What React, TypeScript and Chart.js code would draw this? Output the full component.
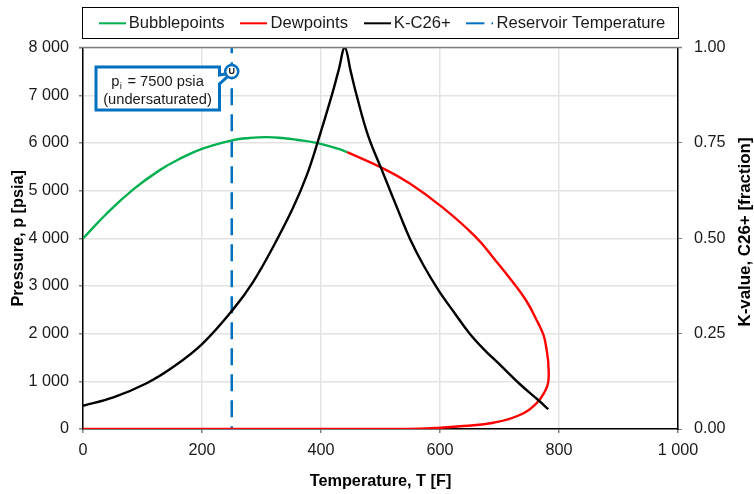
import React, { useEffect, useRef } from "react";
import { Chart, registerables } from "chart.js";

Chart.register(...registerables);

const FONT = '"Liberation Sans", Arial, sans-serif';
const BLUE = "#0070C0";

const bubbleT = [0, 40, 85, 129, 163, 201, 252, 280, 309, 335, 359, 394, 432, 444];
const bubbleP = [3995, 4520, 5030, 5430, 5670, 5880, 6060, 6105, 6122, 6103, 6067, 5996, 5864, 5807];

const dewT = [444, 502, 550, 602, 659, 695, 720, 745, 765, 774, 778, 781, 782, 782, 776, 762, 734, 690, 639, 600, 566, 500, 400, 200, 0];
const dewP = [5807, 5480, 5145, 4670, 4040, 3510, 3120, 2690, 2220, 1969, 1750, 1500, 1382, 990, 782, 538, 293, 132, 63, 27, 6, 1, 0, 0, 0];

const kT = [0, 51, 107, 152, 201, 252, 286, 319, 353, 376, 394, 418, 430, 440, 450, 460, 479, 502, 533, 550, 572, 597, 625, 650, 675, 701, 734, 765, 782];
const kV = [0.061, 0.083, 0.12, 0.163, 0.224, 0.313, 0.386, 0.476, 0.58, 0.665, 0.75, 0.874, 0.943, 1.0, 0.937, 0.874, 0.77, 0.68, 0.56, 0.497, 0.43, 0.365, 0.303, 0.25, 0.207, 0.168, 0.118, 0.076, 0.052];

const resT = [250, 250];
const resP = [8000, 0];

const initialT = [250];
const initialP = [7500];

const xTicks = [0, 200, 400, 600, 800, 1000];
const pts = (xs: number[], ys: number[]) => xs.map((x, i) => ({ x, y: ys[i] }));
const sep = (v: number) => String(v).replace(/\B(?=(\d{3})+$)/g, " ");

function legendSwatch(color: string, dashed: boolean) {
  const c = document.createElement("canvas");
  c.width = 27;
  c.height = 4;
  const g = c.getContext("2d")!;
  g.fillStyle = color;
  if (dashed) {
    g.fillRect(0, 1, 18, 2);
    g.fillRect(25, 1, 2, 2);
  } else {
    g.fillRect(0, 1, 27, 2);
  }
  return c;
}

const decorations = {
  id: "decorations",
  beforeDatasetsDraw(chart: any) {
    const g = chart.ctx;
    const x = chart.scales.x.getPixelForValue(initialT[0]);
    const y1 = chart.scales.y.getPixelForValue(initialP[0]) + 1.5;
    g.save();
    g.strokeStyle = BLUE;
    g.fillStyle = "#fff";
    g.lineWidth = 3;
    g.beginPath();
    g.moveTo(96, 67);
    g.lineTo(219.5, 67);
    g.lineTo(219.5, 75);
    g.lineTo(x, y1);
    g.lineTo(219.5, 84);
    g.lineTo(219.5, 110);
    g.lineTo(96, 110);
    g.closePath();
    g.fill();
    g.stroke();
    g.fillStyle = "#1a1a1a";
    g.textBaseline = "alphabetic";
    g.textAlign = "left";
    g.font = `14.7px ${FONT}`;
    const rest = " = 7500 psia";
    const pw = g.measureText("p").width;
    const w = pw + 4 + g.measureText(rest).width;
    const sx = 157.5 - w / 2;
    g.fillText("p", sx, 86);
    g.fillText(rest, sx + pw + 4, 86);
    g.font = `9.5px ${FONT}`;
    g.fillText("i", sx + pw + 0.5, 89);
    g.font = `14.7px ${FONT}`;
    g.textAlign = "center";
    g.fillText("(undersaturated)", 157.5, 104);
    g.restore();
  },
  afterDatasetsDraw(chart: any) {
    const g = chart.ctx;
    const x = chart.scales.x.getPixelForValue(initialT[0]);
    const y = chart.scales.y.getPixelForValue(initialP[0]);
    g.save();
    g.fillStyle = "#1a1a1a";
    g.font = `bold 9px ${FONT}`;
    g.textAlign = "center";
    g.textBaseline = "middle";
    g.fillText("U", x, y + 0.5);
    g.restore();
  },
  afterDraw(chart: any) {
    const g = chart.ctx;
    const a = chart.chartArea;
    g.save();
    g.strokeStyle = "#000";
    g.lineWidth = 1;
    g.strokeRect(82.5, 7.5, 596, 31);
    g.strokeStyle = "#808080";
    g.lineWidth = 1.5;
    g.beginPath();
    g.moveTo(a.left - 4, a.top);
    g.lineTo(a.right + 4, a.top);
    g.stroke();
    g.fillStyle = "#000";
    g.font = `bold 16.9px ${FONT}`;
    g.textAlign = "center";
    g.textBaseline = "middle";
    g.translate(745, 232);
    g.rotate(-Math.PI / 2);
    g.fillText("K-value, C26+ [fraction]", 0, 0);
    g.restore();
  },
};

export default function App() {
  const ref = useRef<HTMLCanvasElement>(null);
  useEffect(() => {
    const tickFont = { family: FONT, size: 16.2 };
    const titleFont = { family: FONT, size: 16.3, weight: "bold" as const };
    const chart = new Chart(ref.current!, {
      type: "scatter",
      plugins: [decorations],
      data: {
        datasets: [
          { label: "Initial pressure", data: pts(initialT, initialP), showLine: false, pointRadius: 6.5, pointBorderWidth: 2.5, pointBackgroundColor: "#fff", pointBorderColor: BLUE, yAxisID: "y", order: 0 },
          { label: "Bubblepoints", data: pts(bubbleT, bubbleP), showLine: true, borderColor: "#00B050", borderWidth: 2.4, pointRadius: 0, tension: 0.45, yAxisID: "y", order: 3 },
          { label: "Dewpoints", data: pts(dewT, dewP), showLine: true, borderColor: "#FF0000", borderWidth: 2.4, pointRadius: 0, tension: 0.45, yAxisID: "y", order: 2 },
          { label: "K-C26+", data: pts(kT, kV), showLine: true, borderColor: "#000000", borderWidth: 2.4, pointRadius: 0, tension: 0.4, yAxisID: "y2", order: 1 },
          { label: "Reservoir Temperature", data: pts(resT, resP), showLine: true, borderColor: BLUE, borderWidth: 2.5, borderDash: [17, 9], borderDashOffset: 11.3, pointRadius: 0, yAxisID: "y", order: 4 },
        ],
      },
      options: {
        animation: false,
        responsive: false,
        layout: { padding: { top: -6, left: 0, right: -15, bottom: 0 } },
        plugins: {
          tooltip: { enabled: false },
          title: { display: true, text: " ", weight: 500, font: { size: 1 }, padding: { top: 2.4, bottom: 2.4 } },
          legend: {
            position: "top",
            labels: {
              usePointStyle: true,
              pointStyleWidth: 16.6,
              padding: 21,
              color: "#1a1a1a",
              font: { family: FONT, size: 16.6 },
              filter: (item: any) => item.datasetIndex !== 0,
              generateLabels: (c: any) =>
                c.data.datasets.map((d: any, i: number) => ({
                  text: d.label,
                  datasetIndex: i,
                  fontColor: "#1a1a1a",
                  fillStyle: d.borderColor,
                  strokeStyle: d.borderColor,
                  lineWidth: 0,
                  pointStyle: legendSwatch(d.borderColor ?? BLUE, !!d.borderDash),
                })),
            },
          },
        },
        scales: {
          x: {
            type: "linear",
            min: 0,
            max: 1000,
            afterBuildTicks: (s: any) => { s.ticks = xTicks.map((value) => ({ value })); },
            afterFit: (s: any) => { s.height = 65; },
            border: { color: "#000", width: 1.5 },
            grid: { color: "#E3E3E3", lineWidth: 1.5, tickColor: "#808080", tickLength: 4 },
            ticks: { color: "#1a1a1a", font: tickFont, padding: 8, maxRotation: 0, callback: (v: any) => sep(v) },
            title: { display: true, text: "Temperature, T [F]", color: "#000", font: titleFont, padding: { top: 6, bottom: 3 } },
          },
          y: {
            type: "linear",
            position: "left",
            min: 0,
            max: 8000,
            afterFit: (s: any) => { s.width = 83; },
            border: { color: "#000", width: 1.5 },
            grid: { color: "#E3E3E3", lineWidth: 1.5, tickColor: "#808080", tickLength: 4 },
            ticks: { stepSize: 1000, color: "#1a1a1a", font: tickFont, padding: 10, callback: (v: any) => sep(v) },
            title: { display: true, text: "Pressure, p [psia]", color: "#000", font: titleFont, padding: { top: 9, bottom: 0 } },
          },
          y2: {
            type: "linear",
            position: "right",
            min: 0,
            max: 1,
            afterFit: (s: any) => { s.width = 91; },
            border: { color: "#000", width: 1.5 },
            grid: { drawOnChartArea: false, tickColor: "#808080", tickLength: 4 },
            ticks: { stepSize: 0.25, color: "#1a1a1a", font: tickFont, padding: 12, callback: (v: any) => Number(v).toFixed(2) },
          },
        },
      },
    } as any);
    return () => chart.destroy();
  }, []);
  return (
    <div style={{ position: "fixed", left: 0, top: 0, width: 754, height: 494, background: "#fff" }}>
      <canvas ref={ref} width={754} height={494} style={{ display: "block", width: 754, height: 494 }} />
    </div>
  );
}
